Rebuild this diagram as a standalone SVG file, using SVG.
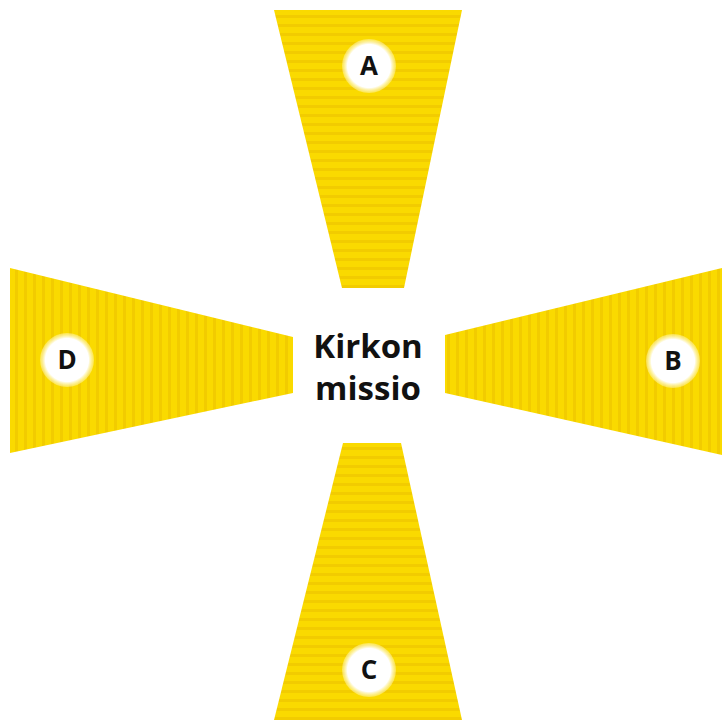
<svg xmlns="http://www.w3.org/2000/svg" width="722" height="722" viewBox="0 0 722 722">
<defs>
<pattern id="hs" width="10" height="9" patternUnits="userSpaceOnUse">
<rect width="10" height="9" fill="#FADA00"/>
<rect y="6" width="10" height="3" fill="#EFC600" opacity="0.7"/>
</pattern>
<pattern id="vs" width="9" height="10" patternUnits="userSpaceOnUse">
<rect width="9" height="10" fill="#FADA00"/>
<rect x="6" width="3" height="10" fill="#EFC600" opacity="0.7"/>
</pattern>
<radialGradient id="glow">
<stop offset="0.8" stop-color="#FFFFFF"/>
<stop offset="1" stop-color="#FFF3A0" stop-opacity="0.5"/>
</radialGradient>
</defs>
<style>
.lbl{font-family:"Open Sans","Noto Sans","DejaVu Sans",sans-serif;font-weight:bold;font-size:26px;fill:#111;text-anchor:middle}
.ctr{font-family:"Open Sans","Noto Sans","DejaVu Sans",sans-serif;font-weight:bold;font-size:33px;fill:#111;text-anchor:middle}
</style>
<rect width="722" height="722" fill="#FFFFFF"/>
<g id="A">
<polygon points="274,10 462,10 404,288 342,288" fill="url(#hs)"/>
<circle cx="369" cy="66" r="27" fill="url(#glow)"/>
<text class="lbl" x="369" y="75">A</text>
</g>
<g id="B">
<polygon points="445,335 722,268 722,455 445,393" fill="url(#vs)"/>
<circle cx="673" cy="361" r="27" fill="url(#glow)"/>
<text class="lbl" x="673" y="370">B</text>
</g>
<g id="C">
<polygon points="343,443 401,443 462,720 274,720" fill="url(#hs)"/>
<circle cx="369" cy="670" r="27" fill="url(#glow)"/>
<text class="lbl" x="369" y="679">C</text>
</g>
<g id="D">
<polygon points="10,268 293,337 293,393 10,453" fill="url(#vs)"/>
<circle cx="67" cy="360" r="27" fill="url(#glow)"/>
<text class="lbl" x="67" y="369">D</text>
</g>
<g id="center">
<text class="ctr" x="368" y="358">Kirkon</text>
<text class="ctr" x="368" y="400">missio</text>
</g>
</svg>
